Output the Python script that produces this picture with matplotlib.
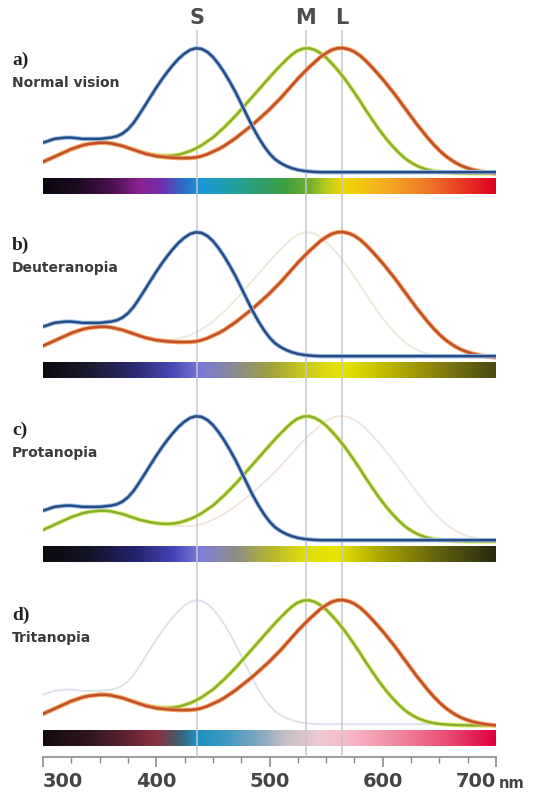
import numpy as np
import matplotlib
matplotlib.use("Agg")
import matplotlib.pyplot as plt
import matplotlib.patheffects as pe
from matplotlib.colors import LinearSegmentedColormap

plt.rcParams["font.family"] = ["DejaVu Sans"]

# wavelength grid (nm), 5 nm steps
wavelengths = np.arange(300, 705, 5)

# normalised cone sensitivities
s_cone = [0.26, 0.275, 0.29, 0.295, 0.30, 0.30, 0.295, 0.29, 0.29, 0.29,
          0.29, 0.295, 0.30, 0.31, 0.33, 0.365, 0.415, 0.48, 0.55, 0.62,
          0.69, 0.755, 0.815, 0.87, 0.918, 0.957, 0.985, 0.998, 0.993, 0.97,
          0.93, 0.875, 0.81, 0.735, 0.655, 0.565, 0.475, 0.385, 0.305, 0.235,
          0.175, 0.13, 0.10, 0.077, 0.06, 0.048, 0.04, 0.035, 0.032, 0.03,
          0.03, 0.03, 0.03, 0.03, 0.03, 0.03, 0.03, 0.03, 0.03, 0.03,
          0.03, 0.03, 0.03, 0.03, 0.03, 0.03, 0.03, 0.03, 0.03, 0.03,
          0.03, 0.03, 0.03, 0.03, 0.03, 0.03, 0.03, 0.03, 0.03, 0.03,
          0.03]
m_cone = [0.11, 0.13, 0.15, 0.17, 0.19, 0.21, 0.225, 0.24, 0.25, 0.255,
          0.26, 0.26, 0.255, 0.245, 0.235, 0.22, 0.205, 0.19, 0.18, 0.17,
          0.163, 0.158, 0.157, 0.16, 0.167, 0.18, 0.195, 0.215, 0.24, 0.27,
          0.30, 0.34, 0.38, 0.425, 0.47, 0.52, 0.57, 0.62, 0.67, 0.72,
          0.77, 0.82, 0.865, 0.91, 0.95, 0.98, 0.996, 0.998, 0.985, 0.96,
          0.925, 0.88, 0.83, 0.775, 0.715, 0.65, 0.585, 0.515, 0.45, 0.385,
          0.325, 0.27, 0.22, 0.175, 0.135, 0.105, 0.08, 0.062, 0.048, 0.038,
          0.032, 0.028, 0.025, 0.023, 0.022, 0.021, 0.02, 0.02, 0.02, 0.02,
          0.02]
l_cone = [0.11, 0.13, 0.15, 0.17, 0.19, 0.21, 0.225, 0.24, 0.25, 0.255,
          0.26, 0.26, 0.255, 0.245, 0.235, 0.22, 0.205, 0.19, 0.175, 0.165,
          0.155, 0.15, 0.145, 0.142, 0.14, 0.14, 0.141, 0.145, 0.155, 0.17,
          0.19, 0.21, 0.235, 0.265, 0.295, 0.33, 0.365, 0.40, 0.44, 0.48,
          0.52, 0.565, 0.61, 0.66, 0.71, 0.76, 0.805, 0.85, 0.89, 0.93,
          0.96, 0.985, 0.998, 1.00, 0.99, 0.97, 0.94, 0.90, 0.855, 0.805,
          0.755, 0.70, 0.645, 0.585, 0.525, 0.465, 0.405, 0.35, 0.295, 0.245,
          0.20, 0.16, 0.128, 0.10, 0.078, 0.061, 0.048, 0.038, 0.03, 0.025,
          0.02]

cone_names = ["S", "M", "L"]
cone_peaks = [436, 532, 564]

panel_letters = ["a)", "b)", "c)", "d)"]
panel_names = ["Normal vision", "Deuteranopia", "Protanopia", "Tritanopia"]
missing_cone = [None, "M", "L", "S"]

# perceived spectrum strips: (wavelength, colour) stops
spectrum_nm = [
    [300, 330, 360, 385, 405, 425, 440, 465, 490, 515, 535, 550, 565, 600, 640, 700],
    [300, 340, 380, 415, 440, 470, 500, 530, 565, 610, 660, 700],
    [300, 340, 380, 415, 440, 470, 500, 530, 560, 600, 650, 700],
    [300, 340, 370, 400, 420, 435, 460, 490, 515, 545, 570, 620, 660, 700],
]
spectrum_colors = [
    ["#0a0610", "#1e0a22", "#4a1050", "#8a2090", "#7030b0", "#2a70c8", "#1e98d8", "#20a0a8",
     "#2ea070", "#40a040", "#70b030", "#b8c820", "#f0d800", "#f4b020", "#f07828", "#e00022"],
    ["#0a0a0e", "#1a1a30", "#2a2a70", "#4a4ab8", "#7a7ad8", "#8a8a90", "#a0a040", "#c8c820",
     "#e8e400", "#b8b000", "#7a7410", "#4a4a10"],
    ["#0a0a0e", "#141428", "#22226a", "#4444b8", "#8080d8", "#8c8c88", "#b4b430", "#e0dc10",
     "#e8e400", "#a8a400", "#606010", "#2a2a10"],
    ["#140a10", "#30161e", "#5a2230", "#8a3040", "#406070", "#2090c0", "#3c98c0", "#80a8c0",
     "#c8c0c8", "#f0c8d0", "#f8b8c8", "#f08098", "#e84870", "#e00040"],
]

core_colors = {"S": "#2b4a84", "M": "#88b030", "L": "#c0502c"}
halo_colors = {"S": "#9cc4e8", "M": "#e4ec78", "L": "#f8a462"}
faint_colors = {"S": "#dde3ec", "M": "#eaeddc", "L": "#f3e6df"}

W, H = 539, 792
PX = 128.0          # pixels per unit of sensitivity
AXIS_PX = 757       # y pixel of the wavelength axis
fig = plt.figure(figsize=(W / 100, H / 100), dpi=100)
ax = fig.add_axes([43 / W, (H - AXIS_PX) / H, (496 - 43) / W, AXIS_PX / H])

curves = {"S": s_cone, "M": m_cone, "L": l_cone}
grad = np.linspace(0, 1, 512).reshape(1, -1)

for i in range(4):
    base = (AXIS_PX - (176 + 184 * i)) / PX
    # spectrum strip
    stops = [((nm - 300) / 400, c) for nm, c in zip(spectrum_nm[i], spectrum_colors[i])]
    cmap = LinearSegmentedColormap.from_list(f"spec{i}", stops)
    ax.imshow(grad, cmap=cmap, aspect="auto", interpolation="bilinear",
              extent=(300, 700, base - 18 / PX, base - 2 / PX), zorder=1)
    # cone curves
    for name in ["M", "L", "S"]:
        y = base + np.array(curves[name])
        if name == missing_cone[i]:
            ax.plot(wavelengths, y, color=faint_colors[name], lw=1.4, zorder=2)
        else:
            ax.plot(wavelengths, y, color=core_colors[name], lw=1.8, zorder=4,
                    solid_capstyle="round", solid_joinstyle="round",
                    path_effects=[pe.Stroke(linewidth=3.2, foreground=halo_colors[name]),
                                  pe.Normal()])
    fig.text(12 / W, 1 - (60 + 185 * i) / H, panel_letters[i], family="Liberation Serif",
             fontweight="bold", fontsize=14, va="center", ha="left", color="#222222")
    fig.text(12 / W, 1 - (83 + 185 * i) / H, panel_names[i], fontsize=10,
             fontweight="bold", va="center", ha="left", color="#3a3a3a")

ax.vlines(cone_peaks, 0, (AXIS_PX - 30) / PX, color="#c2c6ce", lw=1.1, zorder=3)
for name, nm in zip(cone_names, cone_peaks):
    ax.text(nm, (AXIS_PX - 18) / PX, name, ha="center", va="center", fontsize=15,
            fontweight="bold", color="#4d4d4d")

ax.set_xlim(300, 700)
ax.set_ylim(0, AXIS_PX / PX)
for side in ["top", "left", "right"]:
    ax.spines[side].set_visible(False)
ax.spines["bottom"].set_color("#8a8a8a")
ax.spines["bottom"].set_linewidth(1.2)
ax.set_yticks([])
ax.set_xticks([300, 400, 500, 600, 700])
ax.set_xticks(np.arange(300, 701, 25), minor=True)
ax.tick_params(axis="x", which="major", length=7, width=1.2, color="#8a8a8a",
               labelsize=14, labelcolor="#454545", pad=4)
ax.tick_params(axis="x", which="minor", length=4, width=1.0, color="#8a8a8a")
labels = ax.get_xticklabels()
for lab in labels:
    lab.set_fontweight("bold")
labels[0].set_ha("left")
labels[-1].set_ha("right")
fig.text(499 / W, 1 - 783 / H, "nm", fontsize=10.5, fontweight="bold",
         color="#454545", va="center", ha="left")

fig.savefig("out.png", dpi=100, facecolor="white")
